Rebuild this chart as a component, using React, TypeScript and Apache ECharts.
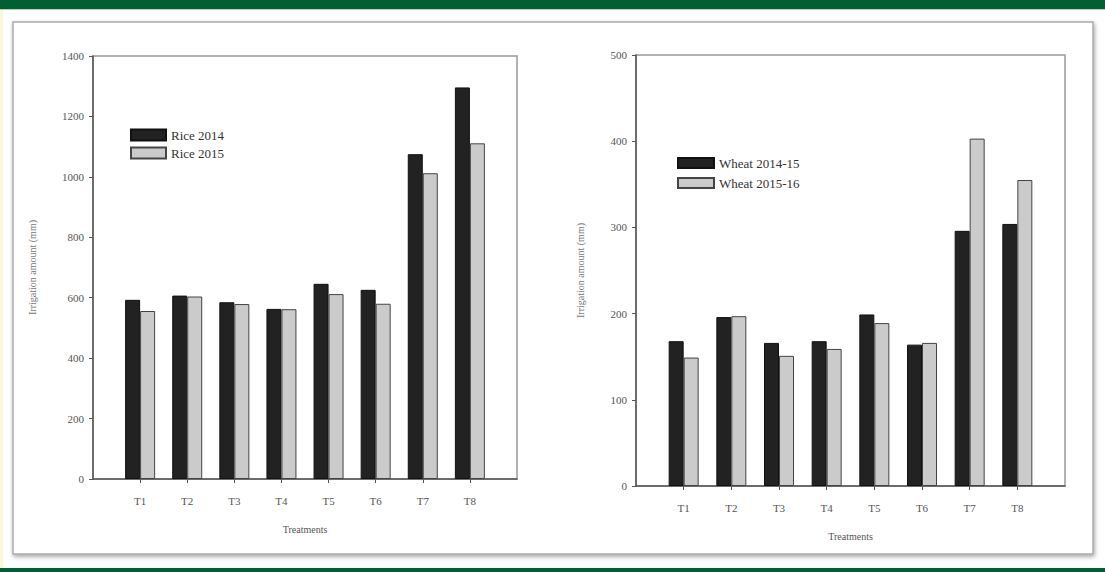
import React, { useEffect, useRef } from "react";
import * as echarts from "echarts";

const categories = ["T1", "T2", "T3", "T4", "T5", "T6", "T7", "T8"];
const rice2014 = [593, 607, 585, 563, 646, 626, 1075, 1296];
const rice2015 = [556, 604, 579, 562, 612, 580, 1012, 1111];
const wheat201415 = [168, 196, 166, 168, 199, 164, 296, 304];
const wheat201516 = [149, 197, 151, 159, 189, 166, 403, 355];
const riceTicks = [0, 200, 400, 600, 800, 1000, 1200, 1400];
const wheatTicks = [0, 100, 200, 300, 400, 500];

const FONT = "'Liberation Serif', 'DejaVu Serif', serif";
const positions = categories.map((_, i) => i + 1);
const toPairs = (vals: number[]) => vals.map((v, i) => [positions[i], v]);

function xAxisFor(gridIndex: number) {
  return {
    gridIndex,
    type: "value",
    min: 0,
    max: 9,
    interval: 1,
    name: "Treatments",
    nameLocation: "middle",
    nameGap: 45,
    nameTextStyle: { fontFamily: FONT, fontSize: 10, color: "#555" },
    axisLine: { show: true, lineStyle: { color: "#555", width: 1.5 } },
    axisTick: { show: true, customValues: positions, length: 4, lineStyle: { color: "#555" } },
    axisLabel: {
      customValues: positions,
      formatter: (v: number) => categories[Math.round(v) - 1] ?? "",
      fontFamily: FONT,
      fontSize: 11,
      color: "#555",
      margin: 16,
    },
    splitLine: { show: false },
  };
}

function yAxisFor(gridIndex: number, ticks: number[], nameGap: number) {
  return {
    gridIndex,
    type: "value",
    min: ticks[0],
    max: ticks[ticks.length - 1],
    interval: ticks[1] - ticks[0],
    name: "Irrigation amount (mm)",
    nameLocation: "middle",
    nameGap,
    nameTextStyle: { fontFamily: FONT, fontSize: 10, color: "#777" },
    axisLine: { show: true, lineStyle: { color: "#555", width: 1.5 } },
    axisTick: { show: true, inside: false, length: 4, lineStyle: { color: "#555" } },
    axisLabel: {
      fontFamily: FONT,
      fontSize: 11,
      color: "#555",
      margin: 9,
      formatter: (v: number) => String(v),
    },
    splitLine: { show: false },
  };
}

const blackStyle = { color: "#222", borderColor: "#111", borderWidth: 1 };
const grayStyle = { color: "#cbcbcb", borderColor: "#444", borderWidth: 1 };

export default function App() {
  const ref = useRef<HTMLDivElement>(null);
  useEffect(() => {
    if (!ref.current) return;
    const chart = echarts.init(ref.current, undefined, { renderer: "svg" });
    chart.setOption({
      animation: false,
      backgroundColor: "#fff",
      graphic: [
        { type: "rect", z: -10, shape: { x: 0, y: 0, width: 1105, height: 572 }, style: { fill: "#fefefe" } },
        { type: "rect", z: -9, shape: { x: 0, y: 0, width: 3, height: 572 }, style: { fill: "#fbf6d8" } },
        { type: "rect", z: -9, shape: { x: 0, y: 0, width: 1105, height: 9 }, style: { fill: "#005f35" } },
        { type: "rect", z: -9, shape: { x: 0, y: 9, width: 1105, height: 1 }, style: { fill: "#b9d3a8" } },
        { type: "rect", z: -9, shape: { x: 0, y: 568, width: 1105, height: 4 }, style: { fill: "#005f35" } },
        {
          type: "rect",
          z: -8,
          shape: { x: 13, y: 22, width: 1080, height: 532 },
          style: {
            fill: "#fff",
            stroke: "#aaa",
            lineWidth: 1.5,
            shadowBlur: 4,
            shadowColor: "rgba(0,0,0,0.35)",
            shadowOffsetX: 1,
            shadowOffsetY: 2,
          },
        },
      ],
      grid: [
        { left: 93, top: 56, width: 424, height: 423, show: true, borderColor: "#999", borderWidth: 1.5, backgroundColor: "transparent" },
        { left: 636, top: 55, width: 429, height: 431, show: true, borderColor: "#999", borderWidth: 1.5, backgroundColor: "transparent" },
      ],
      xAxis: [xAxisFor(0), xAxisFor(1)],
      yAxis: [yAxisFor(0, riceTicks, 56), yAxisFor(1, wheatTicks, 51)],
      legend: [
        {
          data: ["Rice 2014", "Rice 2015"],
          orient: "vertical",
          left: 130,
          top: 128,
          padding: 0,
          itemWidth: 35,
          itemHeight: 11,
          itemGap: 4,
          icon: "rect",
          textStyle: { fontFamily: FONT, fontSize: 13, color: "#333", lineHeight: 14 },
        },
        {
          data: ["Wheat 2014-15", "Wheat 2015-16"],
          orient: "vertical",
          left: 677,
          top: 156,
          padding: 0,
          itemWidth: 36,
          itemHeight: 10,
          itemGap: 6,
          icon: "rect",
          textStyle: { fontFamily: FONT, fontSize: 13, color: "#333", lineHeight: 14 },
        },
      ],
      series: [
        { name: "Rice 2014", type: "bar", xAxisIndex: 0, yAxisIndex: 0, barWidth: 15, barGap: "0%", itemStyle: blackStyle, data: toPairs(rice2014) },
        { name: "Rice 2015", type: "bar", xAxisIndex: 0, yAxisIndex: 0, barWidth: 15, barGap: "0%", itemStyle: grayStyle, data: toPairs(rice2015) },
        { name: "Wheat 2014-15", type: "bar", xAxisIndex: 1, yAxisIndex: 1, barWidth: 15, barGap: "0%", itemStyle: blackStyle, data: toPairs(wheat201415) },
        { name: "Wheat 2015-16", type: "bar", xAxisIndex: 1, yAxisIndex: 1, barWidth: 15, barGap: "0%", itemStyle: grayStyle, data: toPairs(wheat201516) },
      ],
    });
    return () => chart.dispose();
  }, []);
  return (
    <div
      ref={ref}
      style={{ position: "fixed", left: 0, top: 0, width: 1105, height: 572 }}
    />
  );
}
